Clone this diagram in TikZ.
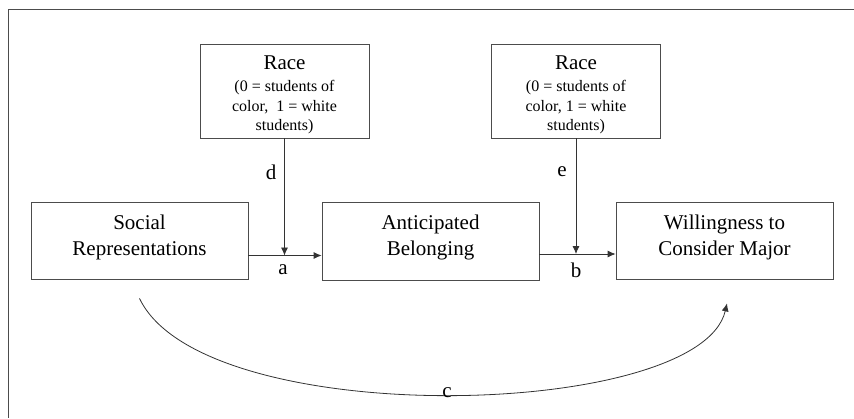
\documentclass[tikz,border=0pt]{standalone}
\usepackage{fontspec}
\setmainfont{Liberation Serif}
\usetikzlibrary{arrows.meta}
\begin{document}
\begin{tikzpicture}[x=1pt, y=-1pt, >={Latex[length=8pt,width=7pt]}, line width=0.8pt,
    box/.style={draw=black!70, minimum width=217pt, minimum height=77pt, align=center, inner sep=0pt, text depth=11pt, font=\fontsize{21}{26}\selectfont},
    racebox/.style={draw=black!70, minimum width=169pt, minimum height=94pt, align=center, inner sep=0pt, text height=83pt, font=\fontsize{16}{19.5}\selectfont},
    lbl/.style={font=\fontsize{21}{24}\selectfont}]
            \useasboundingbox (0, 0) rectangle (854, 418);
            \draw[color=black!70] (854, 9) -- (8, 9) -- (8, 418);
            % moderators
            \node[racebox] (race1) at (284.5, 91) {{\fontsize{21}{24}\selectfont Race}\\[3pt](0 = students of\\color,~~1 = white\\students)};
            \node[racebox] (race2) at (576, 91) {{\fontsize{21}{24}\selectfont Race}\\[3pt](0 = students of\\color, 1 = white\\students)};
            % main path
            \node[box] (soc) at (139.5, 240.5) {Social\\Representations};
            \node[box, minimum height=78pt] (ant) at (430.5, 241) {Anticipated\\Belonging};
            \node[box] (will) at (724.5, 240.5) {Willingness to\\Consider Major};
            \draw[->, color=black!80] ([yshift=-15pt]soc.east) coordinate (pa) -- (ant.west |- pa);
            \draw[->, color=black!80] ([yshift=-13pt]ant.east) coordinate (pb) -- (will.west |- pb);
            \draw[->, color=black!80] (race1.south) -- (race1.south |- pa);
            \draw[->, color=black!80] (race2.south) -- (race2.south |- pb);
            \draw[->, color=black!80] ([yshift=-19pt]soc.south) .. controls (203, 432) and (700, 420) .. ([xshift=2.5pt, yshift=-24pt]will.south);
            \node[lbl] (la) at (283, 270) {a};
            \node[lbl] (lb) at (576, 270) {b};
            \node[lbl] (lc) at (447, 393) {c};
            \node[lbl] (ld) at (271, 172) {d};
            \node[lbl] (le) at (562, 172) {e};
        \end{tikzpicture}
\end{document}
